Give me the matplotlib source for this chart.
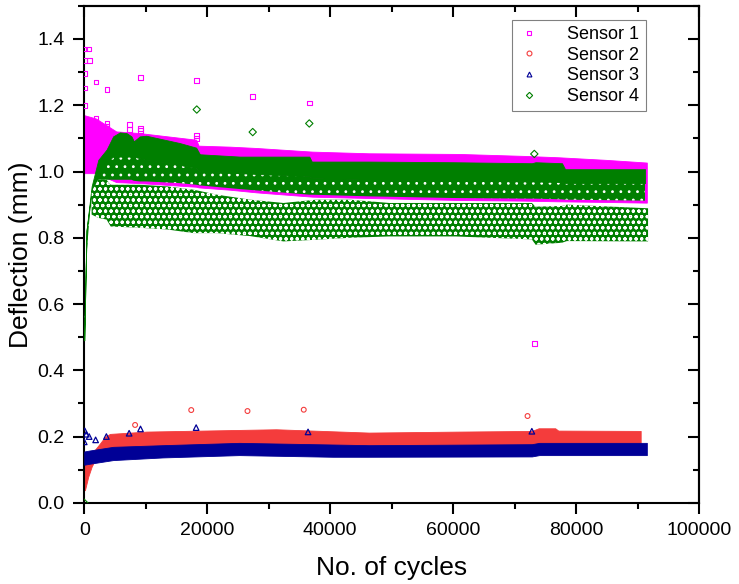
import matplotlib
matplotlib.use("Agg")
import matplotlib.pyplot as plt
from matplotlib.lines import Line2D
from matplotlib.ticker import MultipleLocator, NullFormatter

plt.rcParams['font.family'] = ['Liberation Sans', 'DejaVu Sans']
plt.rcParams['hatch.linewidth'] = 0.8

# colours (Origin-like)
C1 = '#FF00FF'
C2 = '#F43C3C'
C3 = '#000096'
C4 = '#007F00'

# ---- data (envelopes of the dense bands + stray points) ----
# Sensor 1
s1_x = [0, 1900, 5200, 9000, 18200, 18600, 23700, 28000, 37100, 46300, 61000, 71700, 77100, 85000, 91500]
s1_top = [1.17, 1.16, 1.121, 1.116, 1.096, 1.078, 1.075, 1.071, 1.060, 1.055, 1.053, 1.047, 1.043, 1.035, 1.027]
s1_low = [0.995, 0.995, 0.968, 0.965, 0.954, 0.952, 0.945, 0.937, 0.924, 0.92, 0.914, 0.912, 0.91, 0.908, 0.906]
s1_out_x = [0, 100, 700, 900, 100, 1900, 100, 3700, 9200, 18300, 27400, 36600,
            100, 1900, 3700, 3700, 7400, 7400, 9200, 9200, 18300, 18300, 73200]
s1_out_y = [1.334, 1.37, 1.37, 1.334, 1.297, 1.27, 1.252, 1.247, 1.284, 1.275, 1.227, 1.207,
            1.198, 1.159, 1.144, 1.136, 1.143, 1.126, 1.124, 1.130, 1.108, 1.099, 0.482]

# Sensor 2
s2_x = [0, 110, 650, 1200, 1730, 2550, 3360, 4170, 10100, 25200, 31200, 46300, 61000, 72800, 73900, 76600, 77100, 90500]
s2_top = [0.15, 0.15, 0.15, 0.155, 0.16, 0.179, 0.199, 0.208, 0.215, 0.22, 0.222, 0.212, 0.215, 0.217, 0.225, 0.225, 0.218, 0.217]
s2_low = [0.04, 0.038, 0.079, 0.109, 0.129, 0.14, 0.14, 0.145, 0.15, 0.155, 0.155, 0.155, 0.155, 0.155, 0.16, 0.16, 0.16, 0.16]
s2_out_x = [8270, 17400, 26550, 35700, 72100]
s2_out_y = [0.235, 0.280, 0.277, 0.281, 0.262]

# Sensor 3
s3_x = [0, 900, 4700, 12800, 25200, 40400, 46300, 72800, 74000, 91500]
s3_top = [0.155, 0.158, 0.169, 0.174, 0.181, 0.176, 0.174, 0.177, 0.181, 0.181]
s3_low = [0.115, 0.118, 0.129, 0.137, 0.144, 0.139, 0.139, 0.14, 0.144, 0.144]
s3_out_x = [0, 100, 330, 800, 1850, 3600, 7300, 9150, 18200, 36400, 72800]
s3_out_y = [0.184, 0.217, 0.207, 0.2, 0.19, 0.2, 0.21, 0.223, 0.227, 0.214, 0.216]

# Sensor 4 (upper group)
s4_x = [0, 110, 380, 1200, 2280, 3630, 4700, 5790, 6870, 7680, 8060, 9030, 10100, 15500, 18200, 18800,
        25300, 36600, 37000, 46300, 60000, 72800, 73400, 77700, 78200, 91200]
s4_top = [0.49, 0.592, 0.824, 0.955, 1.035, 1.066, 1.106, 1.118, 1.116, 1.106, 1.091, 1.106, 1.108, 1.086, 1.072, 1.052,
          1.045, 1.045, 1.030, 1.030, 1.028, 1.025, 1.028, 1.025, 1.007, 1.007]
s4_core_low = [0.49, 0.59, 0.82, 0.94, 1.0, 1.03, 1.045, 1.045, 1.045, 1.045, 1.045, 1.04, 1.035, 1.02, 1.01, 1.0,
               0.995, 0.985, 0.98, 0.975, 0.972, 0.97, 0.97, 0.968, 0.965, 0.965]
s4_sparse_low = [0.49, 0.55, 0.75, 0.94, 0.975, 0.975, 0.975, 0.975, 0.975, 0.975, 0.972, 0.97, 0.97, 0.965, 0.96, 0.958,
                 0.947, 0.93, 0.93, 0.925, 0.92, 0.918, 0.918, 0.916, 0.915, 0.912]
# Sensor 4 (lower group)
s4b_x = [1200, 2280, 3630, 4300, 9100, 13500, 17800, 21600, 27000, 32400, 37700, 43200, 49600, 60400,
         72800, 73400, 77700, 78500, 91700]
s4b_top = [0.94, 0.975, 0.975, 0.96, 0.96, 0.955, 0.945, 0.93, 0.915, 0.905, 0.915, 0.915, 0.905, 0.905,
           0.905, 0.894, 0.896, 0.9, 0.889]
s4b_low = [0.87, 0.86, 0.855, 0.834, 0.83, 0.825, 0.814, 0.814, 0.805, 0.789, 0.794, 0.80, 0.804, 0.804,
           0.795, 0.779, 0.785, 0.79, 0.789]
s4_out_x = [0, 18300, 27400, 36600, 73200]
s4_out_y = [0.0, 1.187, 1.119, 1.145, 1.053]

labels = ['Sensor 1', 'Sensor 2', 'Sensor 3', 'Sensor 4']

fig = plt.figure(figsize=(7.39, 5.84), dpi=100)
ax = fig.add_axes([0.114, 0.139, 0.832, 0.851])

# sensor 1
ax.fill_between(s1_x, s1_low, s1_top, color=C1, lw=0.6, zorder=2)
ax.scatter(s1_out_x, s1_out_y, s=12, marker='s', facecolors='none', edgecolors=C1, linewidths=0.8, zorder=5)

# sensor 4: dense core solid, looser marker clouds drawn as green with white specks/rings
ax.fill_between(s4_x, s4_sparse_low, s4_core_low, facecolor=C4, edgecolor='white', hatch='..', lw=0, zorder=3)
ax.fill_between(s4_x, s4_core_low, s4_top, color=C4, lw=0.6, zorder=3)
ax.fill_between(s4b_x, s4b_low, s4b_top, facecolor=C4, edgecolor='white', hatch='ooo', lw=0, zorder=3)
ax.scatter(s4_out_x, s4_out_y, s=14, marker='D', facecolors='none', edgecolors=C4, linewidths=0.8, zorder=5)

# sensor 2
ax.fill_between(s2_x, s2_low, s2_top, color=C2, lw=0.6, zorder=2)
ax.scatter(s2_out_x, s2_out_y, s=12, marker='o', facecolors='none', edgecolors=C2, linewidths=0.8, zorder=5)

# sensor 3
ax.fill_between(s3_x, s3_low, s3_top, color=C3, lw=0.6, zorder=3)
ax.scatter(s3_out_x, s3_out_y, s=16, marker='^', facecolors='none', edgecolors=C3, linewidths=0.9, zorder=5)

ax.set_xlim(0, 100000)
ax.set_ylim(0, 1.5)
ax.xaxis.set_major_locator(MultipleLocator(20000))
ax.xaxis.set_minor_locator(MultipleLocator(10000))
ax.yaxis.set_major_locator(MultipleLocator(0.2))
ax.yaxis.set_minor_locator(MultipleLocator(0.1))
ax.yaxis.set_major_formatter(plt.FormatStrFormatter('%.1f'))
ax.tick_params(which='major', direction='out', length=8, width=1.5, labelsize=14, pad=6)
ax.tick_params(which='minor', direction='out', length=4.5, width=1.5)
ax.tick_params(top=False, right=False, which='both')
for sp in ax.spines.values():
    sp.set_linewidth(1.5)

secx = ax.secondary_xaxis('top')
secx.xaxis.set_major_locator(MultipleLocator(20000))
secx.xaxis.set_minor_locator(MultipleLocator(10000))
secx.xaxis.set_major_formatter(NullFormatter())
secx.tick_params(which='major', direction='in', length=8, width=1.5)
secx.tick_params(which='minor', direction='in', length=4.5, width=1.5)
secx.spines['top'].set_linewidth(1.5)

secy = ax.secondary_yaxis('right')
secy.yaxis.set_major_locator(MultipleLocator(0.2))
secy.yaxis.set_minor_locator(MultipleLocator(0.1))
secy.yaxis.set_major_formatter(NullFormatter())
secy.tick_params(which='major', direction='in', length=8, width=1.5)
secy.tick_params(which='minor', direction='in', length=4.5, width=1.5)
secy.spines['right'].set_linewidth(1.5)

ax.set_xlabel('No. of cycles', fontsize=19, labelpad=12)
ax.set_ylabel('Deflection (mm)', fontsize=19, labelpad=3)

handles = [
    Line2D([], [], ls='none', marker='s', ms=3.5, mfc='none', mec=C1, mew=0.8),
    Line2D([], [], ls='none', marker='o', ms=3.5, mfc='none', mec=C2, mew=0.8),
    Line2D([], [], ls='none', marker='^', ms=3.5, mfc='none', mec=C3, mew=0.8),
    Line2D([], [], ls='none', marker='D', ms=3.2, mfc='none', mec=C4, mew=0.8),
]
leg = ax.legend(handles, labels, loc='upper right', bbox_to_anchor=(0.913, 0.972), borderaxespad=0,
                fancybox=False, edgecolor='#808080', fontsize=13, handlelength=1.2, handletextpad=1.5,
                labelspacing=0.2, borderpad=0.35, framealpha=1)
leg.get_frame().set_linewidth(0.8)

fig.savefig('out.png', dpi=100)
